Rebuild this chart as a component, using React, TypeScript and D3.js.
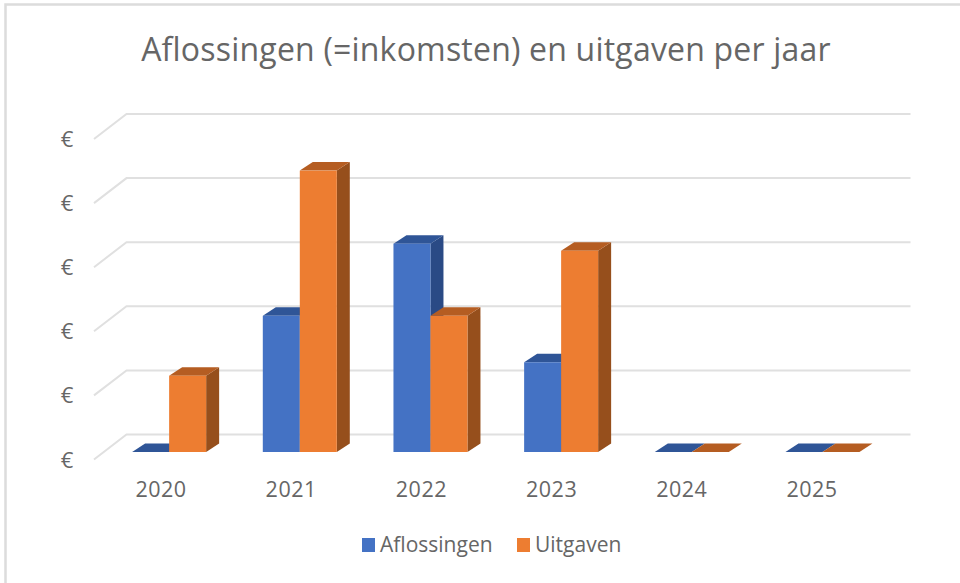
import React from "react";
import * as d3 from "d3";

const years = ["2020", "2021", "2022", "2023", "2024", "2025"];
const aflossingen = [0, 2.125, 3.25, 1.4, 0, 0];
const uitgaven = [1.19, 4.39, 2.125, 3.14, 0, 0];
const ticks = [0, 1, 2, 3, 4, 5];
const seriesNames = ["Aflossingen", "Uitgaven"];
const title = "Aflossingen (=inkomsten) en uitgaven per jaar";

const FONT = "'Open Sans', sans-serif";
const TEXT = "#666666";
const GRID = "#e0e0e0";
const palette = [
  { front: "#4472c4", top: "#2f5597", side: "#2a4a85" },
  { front: "#ed7d31", top: "#b55d22", side: "#964f1c" },
];

const x = d3.scaleBand<string>().domain(years).range([94, 878]);
const labelX = d3.scalePoint<string>().domain(years).range([161, 812]);
const y = d3.scaleLinear().domain([0, 5]).range([459.5, 139]);
const wall = { dx: 32.5, dy: -25 };
const inset = { dx: 9.8, dy: -7.5 };
const depth = { dx: 13, dy: -8.5 };
const barW = 37;
const path = (pts: [number, number][]) => d3.line()(pts) + "Z";

function Bar({ year, value, index }: { year: string; value: number; index: number }) {
  const c = palette[index];
  const x0 = x(year)! + x.bandwidth() / 2 + inset.dx + (index - 1) * barW;
  const x1 = x0 + barW;
  const yb = y(0) + inset.dy;
  const yt = y(value) + inset.dy;
  return (
    <g>
      <path d={path([[x1, yt], [x1 + depth.dx, yt + depth.dy], [x1 + depth.dx, yb + depth.dy], [x1, yb]])} fill={c.side} />
      <path d={path([[x0, yt], [x0 + depth.dx, yt + depth.dy], [x1 + depth.dx, yt + depth.dy], [x1, yt]])} fill={c.top} />
      {value > 0 && <rect x={x0} y={yt} width={barW} height={yb - yt} fill={c.front} />}
    </g>
  );
}

export default function App() {
  const [r0, r1] = x.range();
  return (
    <svg width={960} height={583} style={{ position: "absolute", left: 0, top: 0, background: "#fff" }}>
      <path d="M5.5 583V4.5H960" fill="none" stroke="#dcdcdc" strokeWidth={2.5} />
      <text x={486} y={61} textAnchor="middle" fontFamily={FONT} fontSize={32} letterSpacing={0.2} fill={TEXT}>{title}</text>
      {ticks.map((t) => (
        <g key={t}>
          <path
            d={d3.line()([[r0, y(t)], [r0 + wall.dx, y(t) + wall.dy], [r1 + wall.dx, y(t) + wall.dy]])!}
            fill="none"
            stroke={GRID}
            strokeWidth={2}
          />
          <text x={67} y={y(t) + 8} textAnchor="middle" fontFamily={FONT} fontSize={22} fill={TEXT}>€</text>
        </g>
      ))}
      {years.map((yr, i) => (
        <g key={yr}>
          <Bar year={yr} value={aflossingen[i]} index={0} />
          <Bar year={yr} value={uitgaven[i]} index={1} />
          <text x={labelX(yr)!} y={497} textAnchor="middle" fontFamily={FONT} fontSize={21.5} letterSpacing={0.5} fill={TEXT}>{yr}</text>
        </g>
      ))}
      {seriesNames.map((name, i) => {
        const lx = [362, 517][i];
        return (
          <g key={name}>
            <rect x={lx} y={538} width={13} height={14} fill={palette[i].front} />
            <text x={lx + 18} y={552} fontFamily={FONT} fontSize={21} fill={TEXT}>{name}</text>
          </g>
        );
      })}
    </svg>
  );
}
